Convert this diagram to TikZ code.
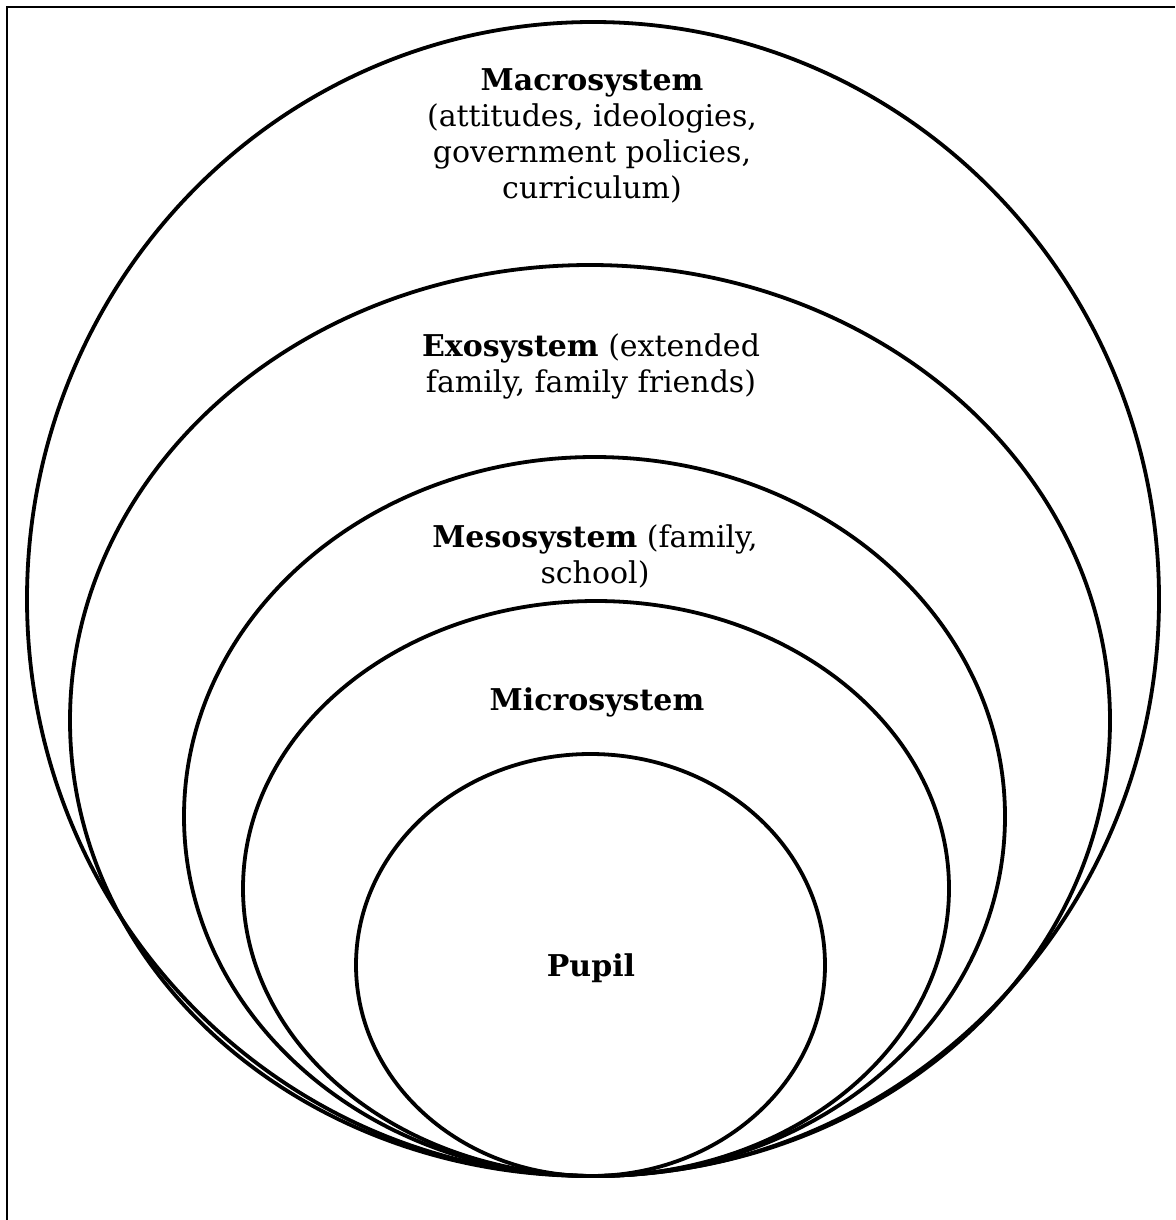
\documentclass[tikz,border=0pt]{standalone}
\usepackage{fontspec}
\setmainfont{DejaVu Serif}
\usepackage{tikz}
\usetikzlibrary{positioning,shapes.geometric}

\begin{document}
\begin{tikzpicture}[x=0.5pt,y=-0.5pt,
	sys/.style 2 args={draw,ellipse,line width=1.9pt,inner sep=0pt,minimum width=#1,minimum height=#2},
	lbl/.style={align=center,font=\fontsize{15}{18}\selectfont}]
	  \useasboundingbox (0,0) rectangle (1175,1220);
	  \draw[line width=0.85pt] (7,1220) -- (7,7) -- (1175,7);
	  \node (A) [sys={566pt}{577pt}] at (593,599) {};
	  \node (B) [sys={520pt}{455.5pt}] at (590,720.5) {};
	  \node (C) [sys={410.5pt}{359.5pt}] at (594.5,816.5) {};
	  \node (D) [sys={353pt}{287.5pt}] at (596,888.5) {};
	  \node (E) [sys={234.5pt}{211pt}] at (590.5,965) {};
	  \node (G1) [lbl] at (592,136) {\textbf{Macrosystem}\\(attitudes, ideologies,\\government policies,\\curriculum)};
	  \node (G2) [lbl] at (591,366) {\textbf{Exosystem} (extended\\family, family friends)};
	  \node (G3) [lbl] at (595,556) {\textbf{Mesosystem} (family,\\school)};
	  \node (G4) [lbl] at (597,702) {\textbf{Microsystem}};
	  \node (G5) [lbl] at (591,968) {\textbf{Pupil}};
	\end{tikzpicture}
\end{document}
